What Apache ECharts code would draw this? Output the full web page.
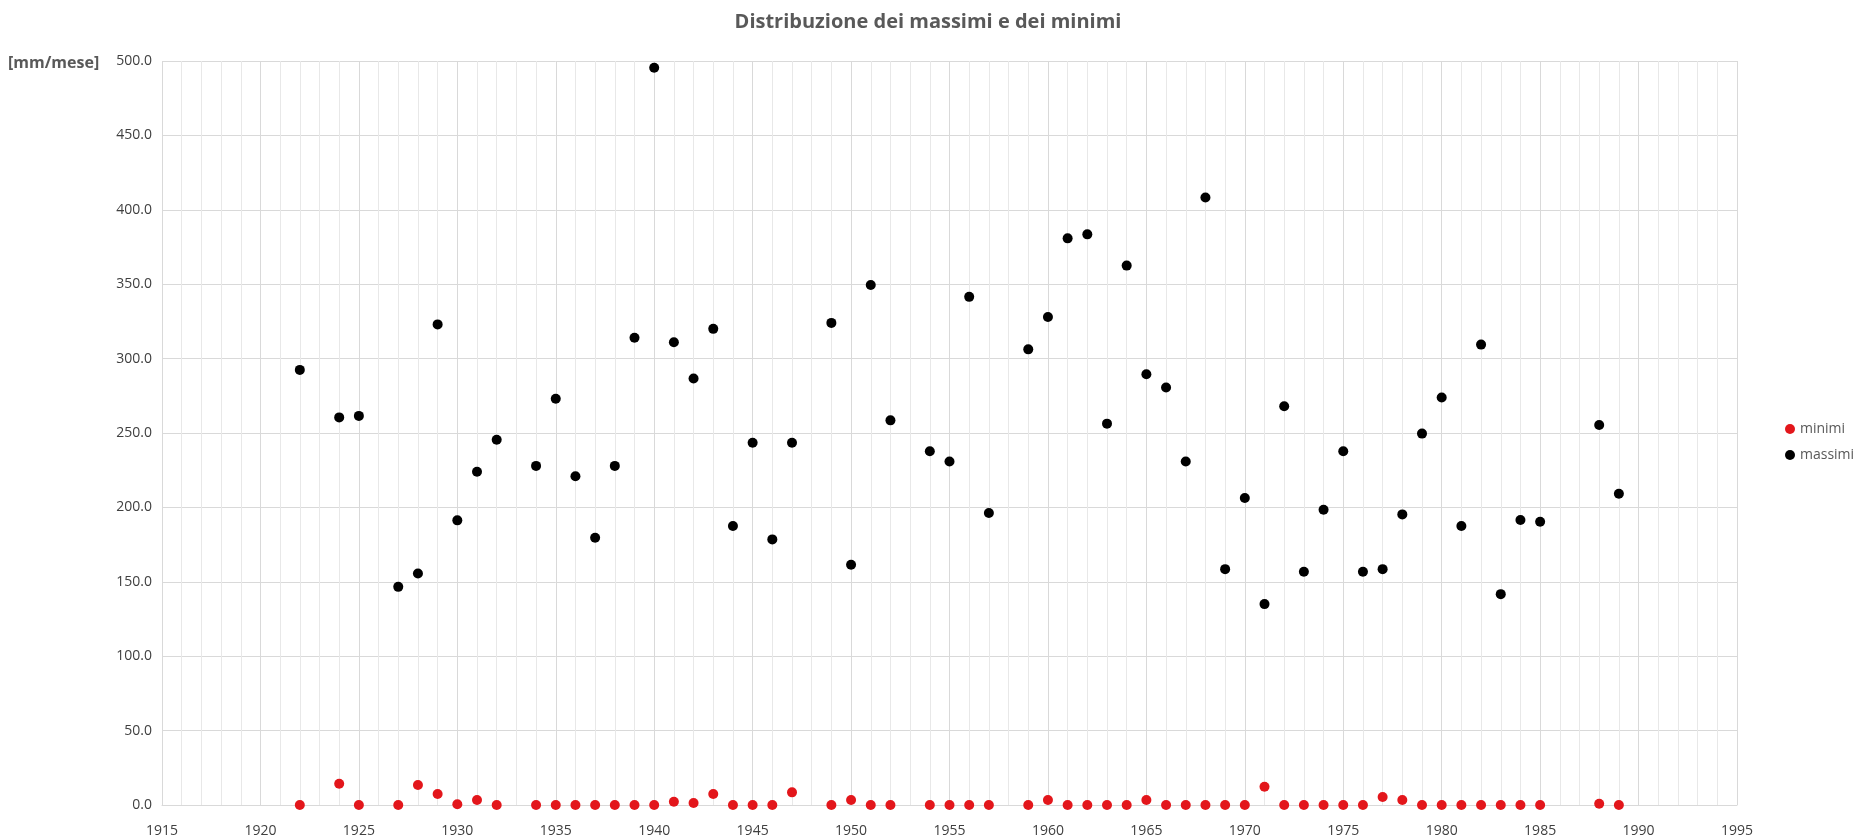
<!DOCTYPE html>
<html>
<head>
<meta charset="utf-8">
<script src="https://cdn.jsdelivr.net/npm/echarts@6/dist/echarts.min.js"></script>
<style>
html,body{margin:0;padding:0;background:#fff;}
#chart{width:1856px;height:838px;}
</style>
</head>
<body>
<div id="chart"></div>
<script>
const years = [1922,1924,1925,1927,1928,1929,1930,1931,1932,1934,1935,1936,1937,1938,1939,1940,1941,1942,1943,1944,1945,1946,1947,1949,1950,1951,1952,1954,1955,1956,1957,1959,1960,1961,1962,1963,1964,1965,1966,1967,1968,1969,1970,1971,1972,1973,1974,1975,1976,1977,1978,1979,1980,1981,1982,1983,1984,1985,1988,1989];
const massimi = [292.4,260.5,261.5,146.6,155.6,323.0,191.3,223.9,245.5,227.9,273.0,220.9,179.6,227.9,314.0,495.5,311.0,286.6,320.0,187.5,243.5,178.5,243.5,324.0,161.4,349.5,258.5,237.7,230.8,341.5,196.2,306.2,328.0,380.8,383.5,256.3,362.5,289.5,280.6,230.8,408.3,158.5,206.3,135.0,268.0,156.7,198.4,237.7,156.7,158.5,195.3,249.6,273.9,187.5,309.4,141.7,191.5,190.4,255.4,209.2];
const minimi = [0,14.3,0,0,13.4,7.4,0.5,3.4,0,0,0,0,0,0,0,0,2.2,1.3,7.4,0,0,0,8.5,0,3.4,0,0,0,0,0,0,0,3.4,0,0,0,0,3.4,0,0,0,0,0,12.3,0,0,0,0,0,5.4,3.4,0,0,0,0,0,0,0,0.8,0];
const title = 'Distribuzione dei massimi e dei minimi';
const yUnit = '[mm/mese]';
const seriesNames = ['minimi','massimi'];

const FONT = 'Open Sans';
const chart = echarts.init(document.getElementById('chart'));
chart.setOption({
  backgroundColor:'#ffffff',
  animation:false,
  title:{
    text:title, left:'center', top:7,
    textStyle:{fontFamily:FONT, fontSize:20, fontWeight:'bold', color:'#595959'}
  },
  graphic:[{
    type:'text', left:8, top:55,
    style:{text:yUnit, font:'bold 16px "Open Sans"', fill:'#595959'}
  }],
  legend:{
    orient:'vertical', left:1780, top:417, itemGap:12,
    itemWidth:10, itemHeight:10,
    textStyle:{fontFamily:FONT, fontSize:14, color:'#595959'},
    data:seriesNames
  },
  grid:{left:162, right:119, top:61, bottom:33, containLabel:false},
  xAxis:{
    type:'value', min:1915, max:1995, interval:5,
    axisLine:{show:true, lineStyle:{color:'#d9d9d9'}},
    axisTick:{show:false},
    axisLabel:{fontFamily:FONT, fontSize:14, color:'#404040', margin:19,
      formatter:v=>String(v)},
    splitLine:{show:true, lineStyle:{color:'#d9d9d9', width:1}},
    minorTick:{show:false, splitNumber:5},
    minorSplitLine:{show:true, lineStyle:{color:'#e8e8e8', width:1}}
  },
  yAxis:{
    type:'value', min:0, max:500, interval:50,
    axisLine:{show:false},
    axisTick:{show:false},
    axisLabel:{fontFamily:FONT, fontSize:14, color:'#404040', margin:10,
      formatter:v=>v.toFixed(1)},
    splitLine:{show:true, lineStyle:{color:'#d9d9d9', width:1}}
  },
  series:[
    {name:seriesNames[0], type:'scatter', symbol:'circle', symbolSize:10,
     itemStyle:{color:'#e3161b', opacity:1},
     data:years.map((y,i)=>[y,minimi[i]]), z:3},
    {name:seriesNames[1], type:'scatter', symbol:'circle', symbolSize:10,
     itemStyle:{color:'#000000', opacity:1},
     data:years.map((y,i)=>[y,massimi[i]]), z:3}
  ]
});
</script>
</body>
</html>
